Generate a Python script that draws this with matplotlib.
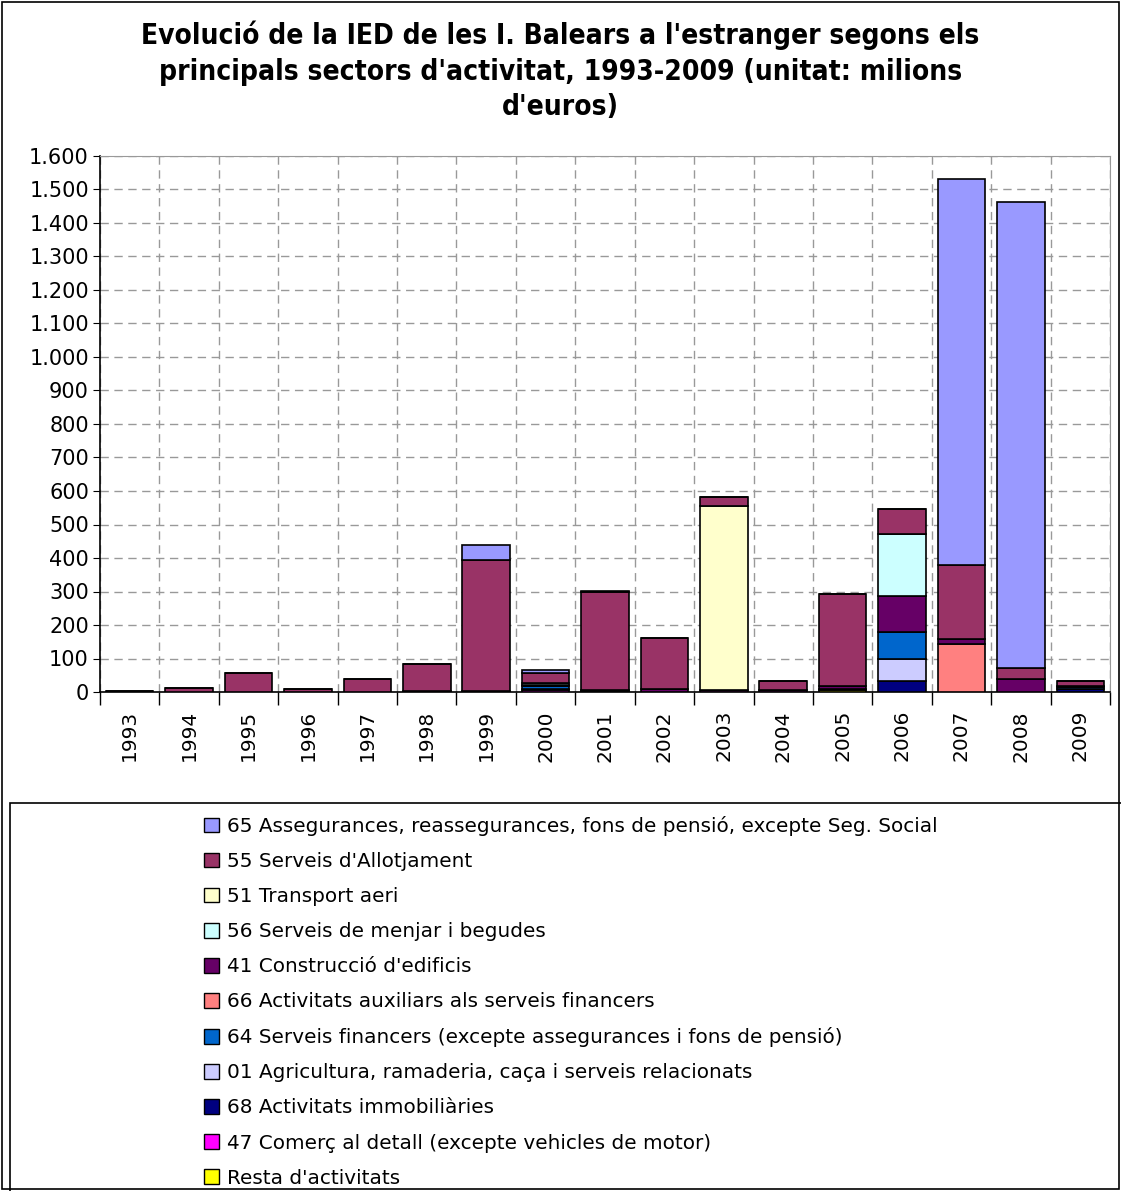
import matplotlib
matplotlib.use('Agg')
import matplotlib.pyplot as plt
import numpy as np
from matplotlib.patches import Rectangle, Patch
from matplotlib.ticker import FuncFormatter, MultipleLocator

years = [str(y) for y in range(1993, 2010)]

# series in stacking order (bottom first)
resta   = [0, 0, 0, 0, 0, 0, 0, 0, 0, 0, 0, 0, 5, 0, 0, 0, 0]
s47     = [0, 0, 0, 0, 0, 0, 0, 7, 0, 0, 0, 0, 4, 0, 0, 0, 0]
s68     = [0, 0, 0, 0, 0, 0, 0, 2, 3, 0, 0, 0, 0, 34, 0, 0, 10]
s01     = [0, 0, 0, 0, 0, 0, 0, 0, 0, 0, 0, 0, 0, 64, 0, 0, 0]
s64     = [0, 0, 0, 0, 0, 0, 0, 8, 0, 0, 0, 0, 0, 81, 0, 0, 5]
s66     = [0, 0, 0, 0, 0, 0, 0, 0, 0, 0, 0, 0, 0, 0, 143, 0, 0]
s41     = [0, 0, 0, 0, 0, 2, 2, 3, 3, 8, 5, 6, 8, 107, 15, 38, 3]
s56     = [0, 0, 0, 0, 0, 0, 0, 8, 0, 0, 0, 0, 0, 185, 0, 0, 0]
s51     = [0, 0, 0, 0, 0, 0, 0, 0, 0, 0, 550, 0, 0, 0, 0, 0, 0]
s55     = [3, 12, 58, 9, 40, 83, 392, 29, 292, 152, 28, 27, 276, 76, 220, 34, 15]
s65     = [0, 0, 0, 0, 0, 0, 45, 9, 2, 0, 0, 0, 0, 0, 1152, 1390, 0]

series = [
    ("Resta d'activitats", resta, "#FFFF00"),
    ("47 Comerç al detall (excepte vehicles de motor)", s47, "#FF00FF"),
    ("68 Activitats immobiliàries", s68, "#000080"),
    ("01 Agricultura, ramaderia, caça i serveis relacionats", s01, "#CCCCFF"),
    ("64 Serveis financers (excepte assegurances i fons de pensió)", s64, "#0066CC"),
    ("66 Activitats auxiliars als serveis financers", s66, "#FF8080"),
    ("41 Construcció d'edificis", s41, "#660066"),
    ("56 Serveis de menjar i begudes", s56, "#CCFFFF"),
    ("51 Transport aeri", s51, "#FFFFCC"),
    ("55 Serveis d'Allotjament", s55, "#993366"),
    ("65 Assegurances, reassegurances, fons de pensió, excepte Seg. Social", s65, "#9999FF"),
]

fig = plt.figure(figsize=(11.21, 11.91), dpi=100)
ax = fig.add_axes([100 / 1121, 1 - 692 / 1191, 1010 / 1121, 536 / 1191])

x = np.arange(len(years))
bottom = np.zeros(len(years))
for name, vals, color in series:
    v = np.array(vals, dtype=float)
    ax.bar(x, v, 0.8, bottom=bottom, color=color, edgecolor="black", linewidth=1.2, zorder=3)
    bottom += v

ax.set_xlim(-0.5, len(years) - 0.5)
ax.set_ylim(0, 1600)
ax.yaxis.set_major_locator(MultipleLocator(100))
ax.yaxis.set_major_formatter(FuncFormatter(lambda v, p: f"{int(v):,}".replace(",", ".")))
ax.set_xticks(x)
ax.set_xticklabels(years, rotation=90)
ax.set_xticks(np.arange(-0.5, len(years)), minor=True)
ax.tick_params(axis="x", which="major", length=0, pad=13, labelsize=14.5)
ax.tick_params(axis="x", which="minor", length=9, width=1, direction="out")
ax.tick_params(axis="y", length=5, labelsize=15, direction="out", pad=3)

ax.grid(axis="y", which="major", color="#999999", linestyle=(0, (6, 4)), linewidth=1, zorder=0)
ax.grid(axis="x", which="minor", color="#999999", linestyle=(0, (6, 4)), linewidth=1, zorder=0)
for s in ["top", "right"]:
    ax.spines[s].set_color("#999999")
ax.spines["left"].set_linewidth(1.2)
ax.spines["bottom"].set_linewidth(1.2)

fig.text(0.5, 1 - 71 / 1191,
         "Evolució de la IED de les I. Balears a l'estranger segons els\n"
         "principals sectors d'activitat, 1993-2009 (unitat: milions\nd'euros)",
         ha="center", va="center", fontsize=20.2, fontweight="bold", linespacing=1.33,
         fontstretch="condensed")

# outer chart border
fig.patches.append(Rectangle((2 / 1121, 2 / 1191), 1117 / 1121, 1187 / 1191,
                             transform=fig.transFigure, fill=False, edgecolor="black", linewidth=1.2))
# legend box
fig.patches.append(Rectangle((10 / 1121, -0.01), 1.0, (1191 - 803) / 1191 + 0.01,
                             transform=fig.transFigure, fill=False, edgecolor="black", linewidth=1.2))

handles = [Patch(facecolor=c, edgecolor="black", linewidth=1, label=n) for n, _, c in reversed(series)]
fig.legend(handles=handles, loc="upper left", bbox_to_anchor=(196 / 1121, 1 - 808 / 1191),
           frameon=False, fontsize=14.45, handlelength=0.75, handleheight=0.75, handletextpad=0.4,
           labelspacing=0.8, borderaxespad=0)

fig.savefig("out.png", dpi=100)
